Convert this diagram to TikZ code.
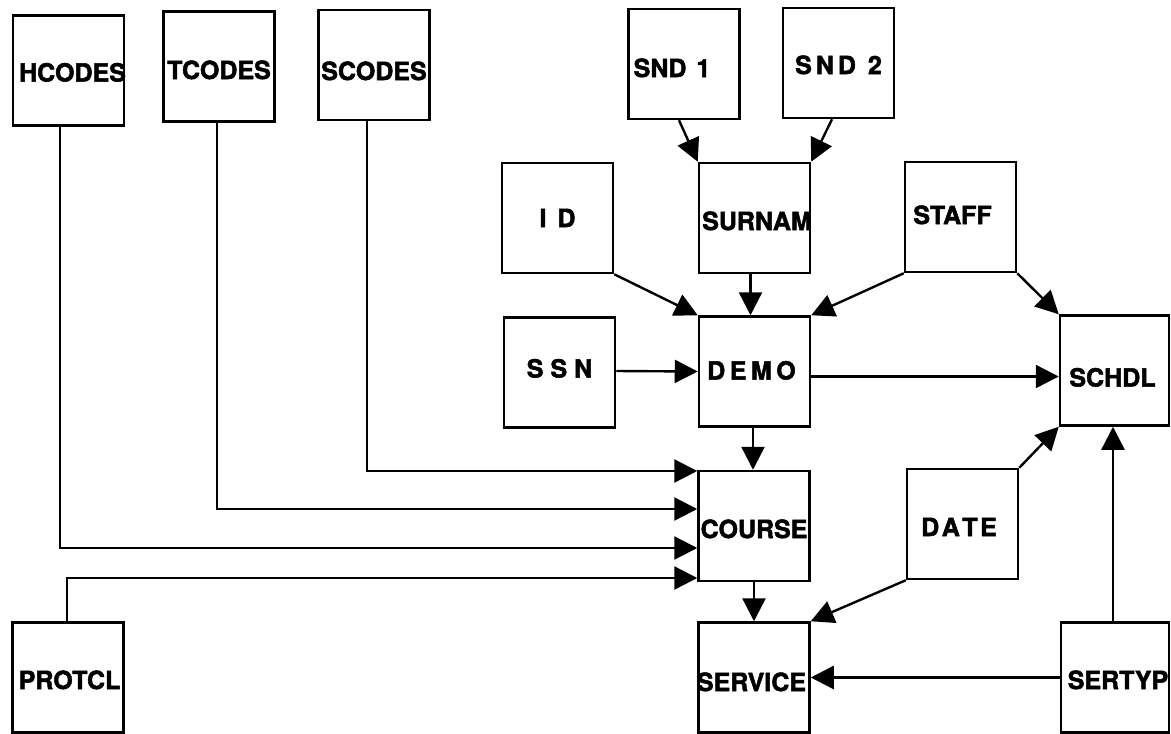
\documentclass[tikz,border=0pt]{standalone}
\usepackage{fontspec}
\setmainfont{TeX Gyre Heros}
\newfontfamily\heavy[BoldFeatures={FakeBold=2}]{TeX Gyre Heros}
\usetikzlibrary{arrows.meta}
\newcommand\lbl[3]{\raisebox{\dimexpr-9pt-#2\relax}[0pt][0pt]{\makebox[0pt][c]{\kern#1\relax #3\kern-#1\relax}}}
\begin{document}
\begin{tikzpicture}[x=1pt,y=-1pt,
  box/.style={draw, line width=2.5pt, minimum width=111pt, minimum height=110pt, inner sep=0pt, font=\heavy\fontsize{25}{30}\selectfont\bfseries},
  arr/.style={line width=2.4pt, -{Triangle[length=23pt,width=23pt]}},
  ln/.style={line width=2.4pt}]
\useasboundingbox (0,0) rectangle (1171,734);
% boxes
\node[box] (hcodes) at (68.5,70.5) {\lbl{4pt}{2pt}{HCODES}};
\node[box] (tcodes) at (219,66.5) {\lbl{0pt}{3.5pt}{TCODES}};
\node[box] (scodes) at (374,65) {\lbl{0pt}{6pt}{SCODES}};
\node[box] (snd1) at (684,64) {\lbl{-12pt}{4pt}{SND\kern10pt 1}};
\node[box] (snd2) at (838.5,63) {\lbl{0pt}{2pt}{S\kern4pt N\kern4pt D\kern12pt 2}};
\node[box] (id) at (557.5,218) {\lbl{0pt}{0pt}{I\kern11pt D}};
\node[box] (surnam) at (754.5,218) {\lbl{2.5pt}{3pt}{SURNAM}};
\node[box] (staff) at (960.5,217) {\lbl{-8pt}{-2pt}{STAFF}};
\node[box] (ssn) at (559.5,372.5) {\lbl{0pt}{-4pt}{S\kern7pt S\kern7pt N}};
\node[box] (demo) at (754.5,371.5) {\lbl{-3pt}{-1pt}{D\kern4.5pt E\kern4.5pt M\kern4.5pt O}};
\node[box, minimum width=109pt] (schdl) at (1114.5,370.5) {\lbl{-2pt}{7pt}{SCHDL}};
\node[box] (course) at (754,526) {\lbl{0pt}{3pt}{COURSE}};
\node[box] (date) at (962.5,524) {\lbl{-3.5pt}{3pt}{D\kern2.5pt A\kern2.5pt T\kern2.5pt E}};
\node[box] (protcl) at (68,677.5) {\lbl{1.5pt}{2.5pt}{PROTCL}};
\node[box] (service) at (754,677.5) {\lbl{-2.5pt}{4.5pt}{SERVICE}};
\node[box, minimum width=108pt] (sertyp) at (1115,677.5) {\lbl{3pt}{2.5pt}{SERTYP}};
% connectors
\draw[arr] ([xshift=-7pt]scodes.south) |- ([yshift=55pt]course.west);
\draw[arr] ([xshift=-2pt]tcodes.south) |- ([yshift=17pt]course.west);
\draw[arr] ([xshift=-8.5pt]hcodes.south) |- ([yshift=-22pt]course.west);
\draw[arr] ([xshift=-1pt]protcl.north) |- ([yshift=-52pt]course.west);
\draw[arr] ([xshift=-5pt]snd1.south) -- (surnam.north west);
\draw[arr] ([xshift=-6.5pt]snd2.south) -- (surnam.north east);
\draw[arr] (id.south east) -- (demo.north west);
\draw[arr] ([xshift=-4pt]surnam.south) -- ([xshift=-4pt]demo.north);
\draw[arr] (staff.south west) -- (demo.north east);
\draw[arr] (staff.south east) -- (schdl.north west);
\draw[arr] ([yshift=1.5pt]ssn.east) -- (demo.west);
\draw[arr] ([yshift=-5pt]demo.east) -- ([yshift=-6pt]schdl.west);
\draw[arr] ([xshift=-1.5pt]demo.south) -- ([xshift=-1pt]course.north);
\draw[arr] (course.south) -- (service.north);
\draw[arr] (date.south west) -- (service.north east);
\draw[arr] (date.north east) -- (schdl.south west);
\draw[arr] ([xshift=-2pt]sertyp.north) -- ([xshift=-1.5pt]schdl.south);
\draw[arr] (sertyp.west) -- (service.east);
\end{tikzpicture}
\end{document}
